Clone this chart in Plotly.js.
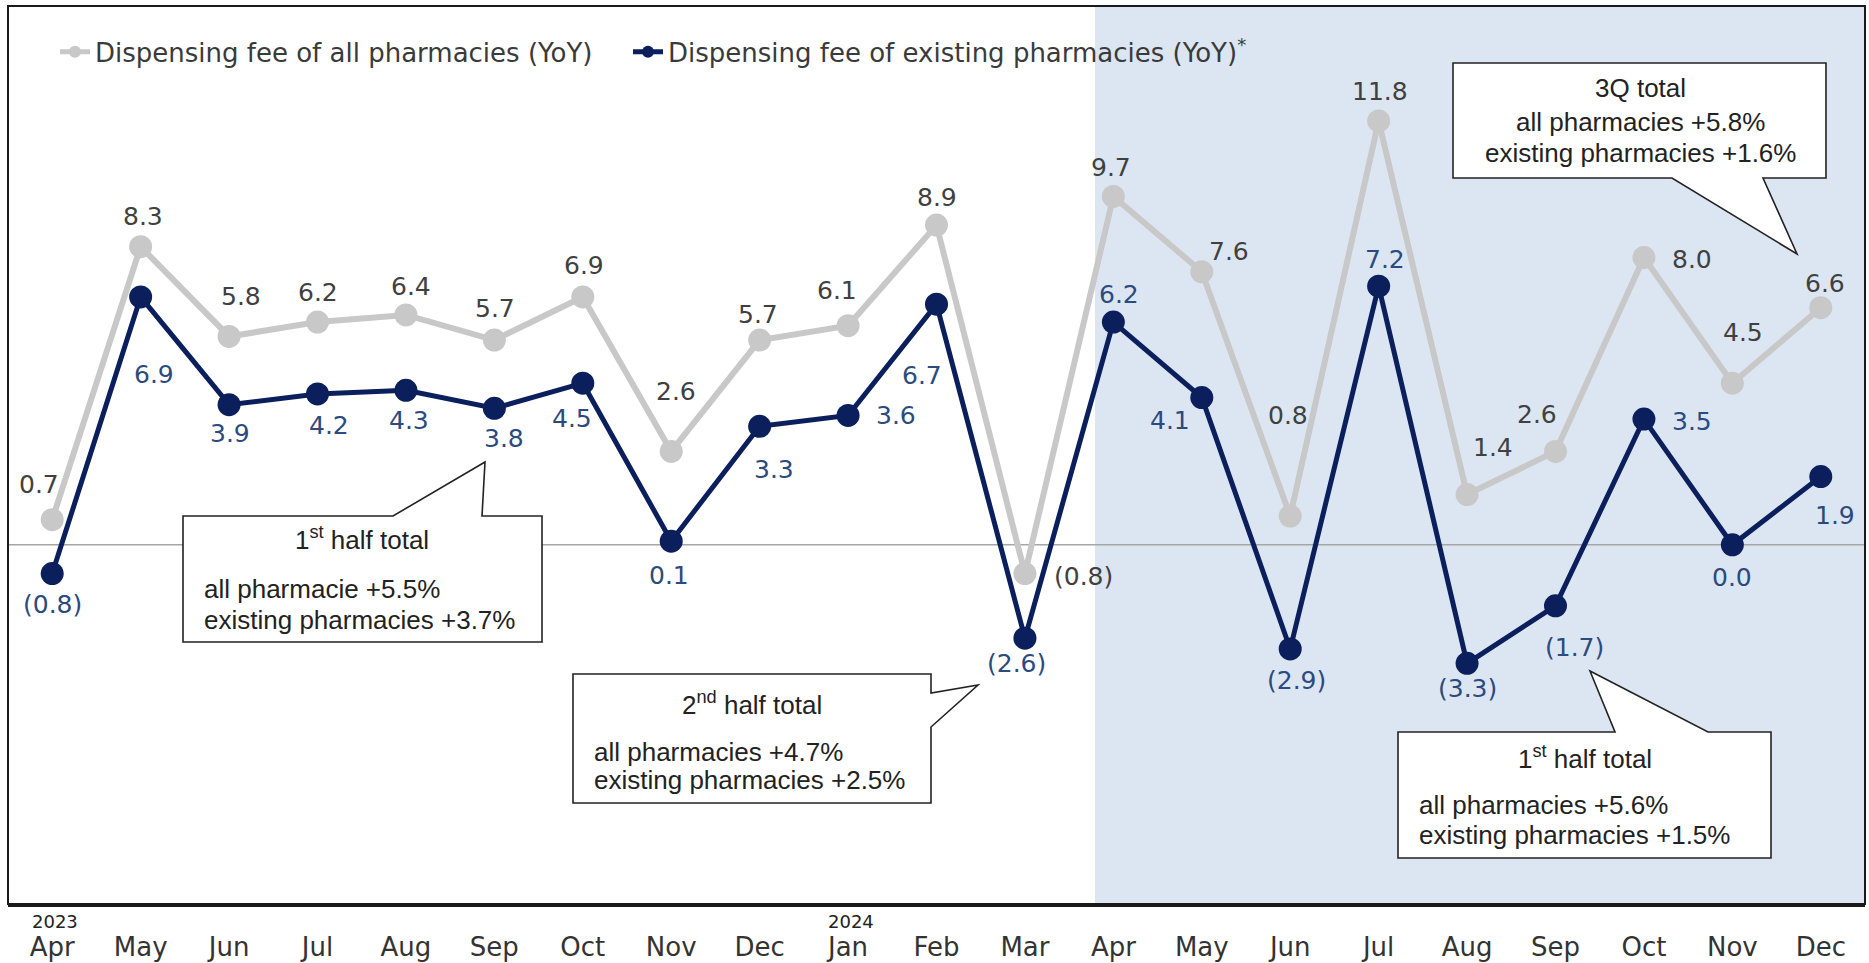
<!DOCTYPE html>
<html>
<head>
<meta charset="utf-8">
<script src="https://cdn.plot.ly/plotly-3.0.1.min.js"></script>
<style>html,body{margin:0;padding:0;background:#fff;}#chart{width:1869px;height:963px;}</style>
</head>
<body>
<div id="chart"></div>
<script>
// ---- data ----
const months = ['Apr','May','Jun','Jul','Aug','Sep','Oct','Nov','Dec','Jan','Feb','Mar','Apr','May','Jun','Jul','Aug','Sep','Oct','Nov','Dec'];
const yearLabels = ['2023','2024'];
const yearIndex = [0, 9];
const allPharmacies = [0.7, 8.3, 5.8, 6.2, 6.4, 5.7, 6.9, 2.6, 5.7, 6.1, 8.9, -0.8, 9.7, 7.6, 0.8, 11.8, 1.4, 2.6, 8.0, 4.5, 6.6];
const existingPharmacies = [-0.8, 6.9, 3.9, 4.2, 4.3, 3.8, 4.5, 0.1, 3.3, 3.6, 6.7, -2.6, 6.2, 4.1, -2.9, 7.2, -3.3, -1.7, 3.5, 0.0, 1.9];
const seriesNames = ['Dispensing fee of all pharmacies (YoY)', 'Dispensing fee of existing pharmacies (YoY)<sup>*</sup>'];

// ---- label offsets (pixels) ----
const allOffX = [-13, 2, 12, 0, 5, 1, 1, 5, -2, -11, 0, 59, -2, 27, -2, 1, 26, -19, 48, 11, 4];
const allOffY = [-35, -30, -40, -30, -28, -32, -31, -60, -26, -35, -28, 3, -29, -20, -101, -29, -47, -37, 2, -51, -24];
const exOffX = [0, 13, 1, 11, 3, 10, -11, -2, 14, 48, -15, -8, 6, -32, 6, 6, 0, 19, 48, 0, 14];
const exOffY = [31, 78, 29, 32, 30, 30, 35, 34, 43, 0, 71, 25, -28, 23, 32, -27, 25, 42, 2, 33, 39];

// ---- geometry ----
const W = 1869, H = 963, ML = 8, MR = 4, MT = 6, MB = 59;
const XR = [-0.5, 20.5], YR = [-10, 15];
const px2x = px => XR[0] + (px - ML) / (W - ML - MR) * (XR[1] - XR[0]);
const py2y = py => YR[1] - (py - MT) / (H - MT - MB) * (YR[1] - YR[0]);
const px2paper = px => (px - ML) / (W - ML - MR);
const py2paper = py => (H - MB - py) / (H - MT - MB);
const P = (px, py) => px2x(px) + ',' + py2y(py);

const GRAY = '#c8c8c8', NAVY = '#0b1f5c';
const FONT = 'DejaVu Sans, sans-serif';
const CFONT = 'Liberation Sans, Arial, sans-serif';
const fmt = v => v < 0 ? '(' + Math.abs(v).toFixed(1) + ')' : v.toFixed(1);
const xIdx = months.map((_, i) => i);

const traces = [
  {x: xIdx, y: allPharmacies, name: seriesNames[0], type: 'scatter', mode: 'lines+markers', legend: 'legend',
   line: {color: GRAY, width: 6}, marker: {color: GRAY, size: 23}, hoverinfo: 'skip'},
  {x: xIdx, y: existingPharmacies, name: seriesNames[1], type: 'scatter', mode: 'lines+markers', legend: 'legend2',
   line: {color: NAVY, width: 5}, marker: {color: NAVY, size: 23}, hoverinfo: 'skip'}
];

const annotations = [];
allPharmacies.forEach((v, i) => annotations.push({x: i, y: v, text: fmt(v), showarrow: false,
  xshift: allOffX[i], yshift: -allOffY[i], font: {family: FONT, size: 25, color: '#404040'}}));
existingPharmacies.forEach((v, i) => annotations.push({x: i, y: v, text: fmt(v), showarrow: false,
  xshift: exOffX[i], yshift: -exOffY[i], font: {family: FONT, size: 25, color: '#2a4a80'}}));
yearLabels.forEach((t, k) => annotations.push({x: yearIndex[k], xref: 'x', y: py2paper(921), yref: 'paper',
  text: t, showarrow: false, xshift: 3, yanchor: 'middle', font: {family: FONT, size: 18, color: '#222'}}));

function ctext(px, py, text, anchor) {
  annotations.push({x: px2x(px), y: py2y(py), text: text, showarrow: false, xanchor: anchor, yanchor: 'middle',
    align: anchor === 'left' ? 'left' : 'center', font: {family: CFONT, size: 26, color: '#222'}});
}
ctext(362, 538, '1<sup>st</sup> half total', 'center');
ctext(202, 589, 'all pharmacie +5.5%', 'left');
ctext(202, 620, 'existing pharmacies +3.7%', 'left');
ctext(752, 703, '2<sup>nd</sup> half total', 'center');
ctext(592, 752, 'all pharmacies +4.7%', 'left');
ctext(592, 780, 'existing pharmacies +2.5%', 'left');
ctext(1585, 757, '1<sup>st</sup> half total', 'center');
ctext(1417, 805, 'all pharmacies +5.6%', 'left');
ctext(1417, 835, 'existing pharmacies +1.5%', 'left');
ctext(1640, 88, '3Q total', 'center');
ctext(1640, 122, 'all pharmacies +5.8%', 'center');
ctext(1640, 153, 'existing pharmacies +1.6%', 'center');

const callout = d => ({type: 'path', xref: 'x', yref: 'y', path: d, fillcolor: '#ffffff',
  line: {color: '#222', width: 1.6}, layer: 'above'});

const shapes = [
  {type: 'rect', xref: 'x', yref: 'paper', x0: px2x(1095), x1: XR[1], y0: 0, y1: 1,
   fillcolor: '#dce6f2', line: {width: 0}, layer: 'below'},
  {type: 'line', xref: 'paper', yref: 'y', x0: 0, x1: 1, y0: 0, y1: 0,
   line: {color: '#a6a6a6', width: 1.6}, layer: 'below'},
  callout('M' + P(183, 516) + ' L' + P(393, 516) + ' L' + P(485, 462) + ' L' + P(482, 516) + ' L' + P(542, 516) +
          ' L' + P(542, 642) + ' L' + P(183, 642) + ' Z'),
  callout('M' + P(573, 674) + ' L' + P(931, 674) + ' L' + P(931, 693) + ' L' + P(978, 685) + ' L' + P(931, 727) +
          ' L' + P(931, 803) + ' L' + P(573, 803) + ' Z'),
  callout('M' + P(1398, 732) + ' L' + P(1615, 732) + ' L' + P(1590, 671) + ' L' + P(1708, 732) + ' L' + P(1771, 732) +
          ' L' + P(1771, 858) + ' L' + P(1398, 858) + ' Z'),
  callout('M' + P(1453, 63) + ' L' + P(1826, 63) + ' L' + P(1826, 178) + ' L' + P(1763, 178) + ' L' + P(1797, 254) +
          ' L' + P(1672, 178) + ' L' + P(1453, 178) + ' Z'),
  {type: 'rect', xref: 'paper', yref: 'paper', x0: 0, x1: 1, y0: 0, y1: 1,
   line: {color: '#1a1a1a', width: 2}, fillcolor: 'rgba(0,0,0,0)', layer: 'above'}
];

const legendBase = {orientation: 'h', y: 0.975, xanchor: 'left', yanchor: 'top',
  bgcolor: 'rgba(0,0,0,0)', font: {family: FONT, size: 26, color: '#3a3a3a'}, itemsizing: 'constant'};

const layout = {
  width: W, height: H,
  margin: {l: ML, r: MR, t: MT, b: MB, pad: 0},
  paper_bgcolor: '#ffffff', plot_bgcolor: '#ffffff',
  showlegend: true,
  legend: Object.assign({}, legendBase, {x: px2paper(55)}),
  legend2: Object.assign({}, legendBase, {x: px2paper(628)}),
  xaxis: {range: XR, tickvals: xIdx, ticktext: months, showgrid: false, zeroline: false,
    showline: true, linecolor: '#1a1a1a', linewidth: 3, ticks: '', ticklabelstandoff: 18,
    tickfont: {family: FONT, size: 26, color: '#333'}, fixedrange: true},
  yaxis: {range: YR, visible: false, showgrid: false, zeroline: false, fixedrange: true},
  shapes: shapes,
  annotations: annotations
};

Plotly.newPlot('chart', traces, layout, {displayModeBar: false, staticPlot: true});
</script>
</body>
</html>
